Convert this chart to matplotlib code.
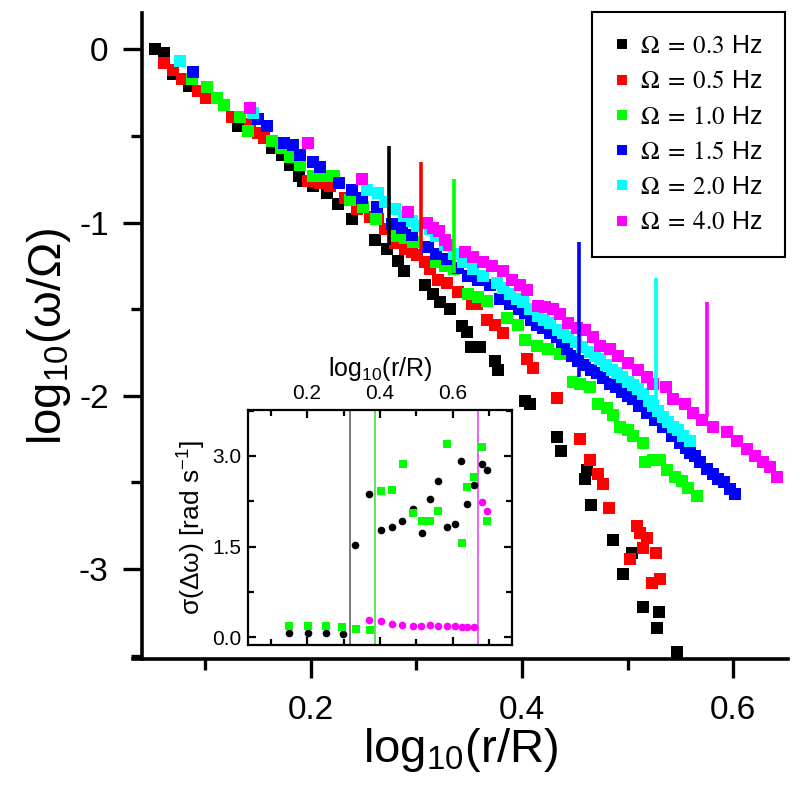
import numpy as np
import matplotlib.pyplot as plt
from matplotlib.font_manager import FontProperties
from matplotlib.ticker import MultipleLocator

plt.rcParams['font.family'] = ['Liberation Sans', 'DejaVu Sans']
plt.rcParams['mathtext.fontset'] = 'custom'
plt.rcParams['mathtext.rm'] = 'Liberation Sans'
plt.rcParams['mathtext.it'] = 'Liberation Sans:italic'
plt.rcParams['axes.unicode_minus'] = False

# main panel: log10(r/R) vs log10(omega/Omega), one series per drive frequency
labels = ['0.3', '0.5', '1.0', '1.5', '2.0', '4.0']
colors = ['#000000', '#ff0000', '#00ff00', '#0000ff', '#00ffff', '#ff00ff']

x03 = [0.052, 0.061, 0.069, 0.085, 0.131, 0.163, 0.173, 0.180, 0.189, 0.193, 0.202, 0.215,
       0.226, 0.239, 0.261, 0.272, 0.283, 0.288, 0.308, 0.316, 0.322, 0.332, 0.343, 0.348,
       0.352, 0.360, 0.374, 0.377, 0.403, 0.408, 0.433, 0.437, 0.460, 0.462, 0.465, 0.486,
       0.496, 0.504, 0.515, 0.528, 0.530, 0.547]
y03 = [-0.00, -0.02, -0.14, -0.21, -0.44, -0.57, -0.61, -0.67, -0.73, -0.76, -0.79, -0.83,
       -0.89, -0.98, -1.10, -1.15, -1.22, -1.28, -1.36, -1.41, -1.46, -1.50, -1.60, -1.63,
       -1.72, -1.72, -1.80, -1.85, -2.03, -2.05, -2.24, -2.32, -2.48, -2.43, -2.63, -2.83,
       -3.03, -2.91, -3.22, -3.34, -3.25, -3.48]

x05 = [0.061, 0.069, 0.078, 0.093, 0.101, 0.125, 0.142, 0.150, 0.156, 0.197, 0.209, 0.218,
       0.232, 0.244, 0.256, 0.264, 0.270, 0.280, 0.289, 0.296, 0.301, 0.308, 0.313, 0.320,
       0.329, 0.339, 0.353, 0.357, 0.367, 0.374, 0.382, 0.405, 0.410, 0.433, 0.455, 0.464,
       0.472, 0.477, 0.482, 0.502, 0.509, 0.512, 0.515, 0.518, 0.523, 0.527, 0.531]
y05 = [-0.08, -0.12, -0.17, -0.24, -0.28, -0.39, -0.43, -0.48, -0.51, -0.76, -0.77, -0.79,
       -0.86, -0.92, -0.97, -0.98, -1.04, -1.12, -1.15, -1.17, -1.19, -1.23, -1.27, -1.33,
       -1.35, -1.40, -1.47, -1.47, -1.56, -1.59, -1.64, -1.79, -1.84, -2.01, -2.25, -2.37,
       -2.45, -2.51, -2.65, -2.94, -2.75, -2.79, -2.88, -2.82, -3.08, -2.91, -3.06]

x10 = [0.087, 0.102, 0.111, 0.118, 0.133, 0.140, 0.163, 0.172, 0.180, 0.190, 0.202, 0.213,
       0.222, 0.237, 0.249, 0.262, 0.282, 0.289, 0.297, 0.319, 0.327, 0.336, 0.349, 0.358,
       0.367, 0.386, 0.396, 0.403, 0.414, 0.425, 0.436, 0.448, 0.455, 0.464, 0.472, 0.481,
       0.486, 0.493, 0.500, 0.505, 0.515, 0.517, 0.524, 0.531, 0.537, 0.545, 0.552, 0.557,
       0.566]
y10 = [-0.17, -0.22, -0.28, -0.32, -0.39, -0.47, -0.53, -0.57, -0.62, -0.67, -0.73, -0.73,
       -0.73, -0.87, -0.91, -0.98, -1.08, -1.09, -1.11, -1.23, -1.25, -1.27, -1.41, -1.43,
       -1.45, -1.55, -1.59, -1.68, -1.71, -1.73, -1.76, -1.92, -1.93, -1.95, -2.05, -2.07,
       -2.11, -2.18, -2.20, -2.23, -2.27, -2.38, -2.37, -2.37, -2.43, -2.47, -2.49, -2.53,
       -2.58]

x15 = [0.088, 0.150, 0.158, 0.175, 0.183, 0.190, 0.202, 0.209, 0.227, 0.239, 0.248, 0.263,
       0.277, 0.286, 0.296, 0.311, 0.319, 0.329, 0.339, 0.349, 0.358, 0.370, 0.379, 0.389,
       0.397, 0.403, 0.409, 0.414, 0.420, 0.427, 0.433, 0.438, 0.443, 0.447, 0.453, 0.460,
       0.465, 0.471, 0.477, 0.483, 0.489, 0.495, 0.500, 0.505, 0.511, 0.518, 0.526, 0.534,
       0.542, 0.550, 0.555, 0.559, 0.564, 0.569, 0.575, 0.581, 0.586, 0.591, 0.597, 0.602]
y15 = [-0.13, -0.40, -0.44, -0.54, -0.55, -0.61, -0.65, -0.68, -0.77, -0.81, -0.86, -0.91,
       -1.01, -1.03, -1.07, -1.14, -1.18, -1.21, -1.26, -1.31, -1.33, -1.36, -1.44, -1.47,
       -1.50, -1.52, -1.56, -1.59, -1.61, -1.64, -1.66, -1.69, -1.73, -1.77, -1.80, -1.82,
       -1.85, -1.87, -1.90, -1.93, -1.95, -1.98, -2.00, -2.02, -2.06, -2.10, -2.14, -2.18,
       -2.23, -2.27, -2.30, -2.33, -2.35, -2.38, -2.42, -2.45, -2.48, -2.50, -2.54, -2.57]

x20 = [0.076, 0.145, 0.253, 0.264, 0.270, 0.280, 0.288, 0.296, 0.301, 0.313, 0.319, 0.327,
       0.336, 0.344, 0.354, 0.363, 0.376, 0.382, 0.389, 0.395, 0.401, 0.408, 0.415, 0.421,
       0.427, 0.434, 0.439, 0.444, 0.451, 0.457, 0.464, 0.469, 0.474, 0.480, 0.485, 0.490,
       0.495, 0.500, 0.505, 0.510, 0.515, 0.520, 0.524, 0.529, 0.534, 0.538, 0.543, 0.548,
       0.553, 0.559]
y20 = [-0.07, -0.37, -0.81, -0.83, -0.88, -0.92, -0.96, -0.99, -1.02, -1.04, -1.08, -1.13,
       -1.18, -1.23, -1.27, -1.31, -1.35, -1.38, -1.41, -1.44, -1.46, -1.50, -1.54, -1.56,
       -1.58, -1.62, -1.64, -1.66, -1.69, -1.72, -1.75, -1.77, -1.79, -1.82, -1.85, -1.87,
       -1.89, -1.92, -1.94, -1.96, -1.99, -2.03, -2.06, -2.09, -2.12, -2.15, -2.18, -2.20,
       -2.23, -2.26]

x40 = [0.142, 0.197, 0.248, 0.292, 0.310, 0.316, 0.321, 0.327, 0.331, 0.346, 0.354, 0.363,
       0.372, 0.382, 0.391, 0.398, 0.405, 0.415, 0.422, 0.429, 0.436, 0.444, 0.452, 0.460,
       0.467, 0.474, 0.483, 0.491, 0.500, 0.510, 0.518, 0.524, 0.536, 0.543, 0.554, 0.562,
       0.571, 0.581, 0.594, 0.604, 0.613, 0.621, 0.628, 0.635, 0.642]
y40 = [-0.34, -0.54, -0.75, -0.94, -1.00, -1.03, -1.05, -1.10, -1.13, -1.17, -1.20, -1.23,
       -1.25, -1.28, -1.33, -1.36, -1.39, -1.48, -1.49, -1.50, -1.53, -1.58, -1.61, -1.62,
       -1.66, -1.71, -1.73, -1.77, -1.81, -1.85, -1.89, -1.93, -1.95, -2.02, -2.05, -2.10,
       -2.14, -2.18, -2.21, -2.26, -2.31, -2.35, -2.38, -2.41, -2.47]

xs = [x03, x05, x10, x15, x20, x40]
ys = [y03, y05, y10, y15, y20, y40]

# cutoff markers drawn as vertical bars
cut_x = [0.274, 0.304, 0.336, 0.454, 0.527, 0.575]
cut_top = [-0.56, -0.65, -0.75, -1.11, -1.32, -1.46]
cut_bot = [-1.13, -1.16, -1.29, -1.89, -2.04, -2.12]

# inset: sigma(delta omega)
in_black_x = [0.151, 0.203, 0.251, 0.299, 0.332, 0.370, 0.402, 0.434, 0.461, 0.490, 0.515,
              0.536, 0.560, 0.583, 0.605, 0.621, 0.638, 0.658, 0.679, 0.694]
in_black_y = [0.07, 0.07, 0.07, 0.06, 1.53, 2.37, 1.78, 1.83, 1.93, 2.12, 1.73,
              2.29, 2.58, 1.83, 1.88, 2.91, 2.21, 2.52, 2.87, 2.77]
in_green_x = [0.151, 0.203, 0.251, 0.297, 0.333, 0.372, 0.404, 0.434, 0.463, 0.490, 0.515,
              0.538, 0.560, 0.583, 0.624, 0.639, 0.659, 0.680, 0.694]
in_green_y = [0.18, 0.18, 0.18, 0.16, 0.14, 0.12, 2.42, 2.44, 2.86, 2.05, 1.93,
              1.93, 2.08, 3.19, 1.56, 2.48, 2.65, 3.14, 1.93]
in_mag_x = [0.370, 0.404, 0.434, 0.461, 0.490, 0.513, 0.536, 0.560, 0.583, 0.605, 0.624,
            0.639, 0.659, 0.679, 0.694]
in_mag_y = [0.29, 0.26, 0.22, 0.20, 0.19, 0.19, 0.20, 0.18, 0.18, 0.18, 0.17,
            0.17, 0.17, 2.23, 2.08]
in_cut_x = [0.317, 0.387, 0.669]
in_cut_c = ['#707070', '#55e055', '#ee55ee']

fig = plt.figure(figsize=(8, 7.97), dpi=100)
ax = fig.add_axes([0.166, 0.1731, 0.819, 0.8106])

for x, y, c, lab in zip(xs, ys, colors, labels):
    ax.plot(x, y, 's', color=c, ms=8, mew=0, label=r'$\Omega\;=\;%s$ Hz' % lab)
ax.vlines(cut_x, cut_bot, cut_top, colors=colors, lw=2.6)

ax.set_xlim(0.0313, 0.652)
ax.set_ylim(-3.52, 0.21)
ax.spines['left'].set_position(('data', 0.04))
ax.xaxis.set_major_locator(MultipleLocator(0.2))
ax.xaxis.set_minor_locator(MultipleLocator(0.1))
ax.yaxis.set_major_locator(MultipleLocator(1))
ax.yaxis.set_minor_locator(MultipleLocator(0.5))
ax.xaxis.set_major_formatter(plt.FuncFormatter(lambda v, p: '%.1f' % v))
ax.yaxis.set_major_formatter(plt.FuncFormatter(lambda v, p: '%d' % round(v)))
for s in ['top', 'right']:
    ax.spines[s].set_visible(False)
for s in ['left', 'bottom']:
    ax.spines[s].set_linewidth(2.6)
ax.tick_params(which='major', direction='out', length=14, width=2.4, labelsize=24)
ax.tick_params(axis='x', which='major', pad=12)
ax.tick_params(axis='y', which='major', pad=10)
ax.tick_params(which='minor', direction='out', length=8, width=2.4)
ax.set_xlabel(r'log$_{10}$(r/R)', fontsize=34, labelpad=0)
ax.set_ylabel(r'log$_{10}$(ω/Ω)', fontsize=34, labelpad=4)

leg_font = FontProperties(family='Liberation Sans', size=18, math_fontfamily='stix')
leg = ax.legend(loc='upper right', bbox_to_anchor=(0.995, 1.002), borderaxespad=0,
                prop=leg_font, fancybox=False, edgecolor='black', framealpha=1,
                borderpad=0.9, labelspacing=0.45, handlelength=0.6, handletextpad=0.4,
                markerscale=0.9)
leg.get_frame().set_linewidth(1.5)

# inset
ax2 = fig.add_axes([0.31, 0.1907, 0.33, 0.2949])
for xc, c in zip(in_cut_x, in_cut_c):
    ax2.axvline(xc, color=c, lw=1.3)
ax2.plot(in_black_x, in_black_y, 'o', color='black', ms=5.5, mew=0)
ax2.plot(in_green_x, in_green_y, 's', color='#00ff00', ms=5.5, mew=0)
ax2.plot(in_mag_x, in_mag_y, 'o', color='#ff00ff', ms=5.5, mew=0)
ax2.set_xlim(0.038, 0.762)
ax2.set_ylim(-0.13, 3.76)
ax2.xaxis.set_major_locator(MultipleLocator(0.2))
ax2.xaxis.set_minor_locator(MultipleLocator(0.1))
ax2.yaxis.set_major_locator(MultipleLocator(1.5))
ax2.yaxis.set_minor_locator(MultipleLocator(0.75))
ax2.xaxis.set_major_formatter(plt.FuncFormatter(lambda v, p: '%.1f' % v))
ax2.yaxis.set_major_formatter(plt.FuncFormatter(lambda v, p: '%.1f' % v))
for s in ax2.spines.values():
    s.set_linewidth(1.6)
ax2.tick_params(which='both', direction='in', top=True, bottom=True, left=True, right=True,
                labeltop=True, labelbottom=False, labelleft=True, labelright=False,
                width=1.6, labelsize=15, pad=5)
ax2.tick_params(which='major', length=6)
ax2.tick_params(which='minor', length=4)
ax2.xaxis.set_label_position('top')
ax2.set_xlabel(r'log$_{10}$(r/R)', fontsize=18, labelpad=6)
ax2.set_ylabel(r'σ(Δω) [rad s$^{-1}$]', fontsize=19, labelpad=3)

fig.savefig('out.png', dpi=100)
